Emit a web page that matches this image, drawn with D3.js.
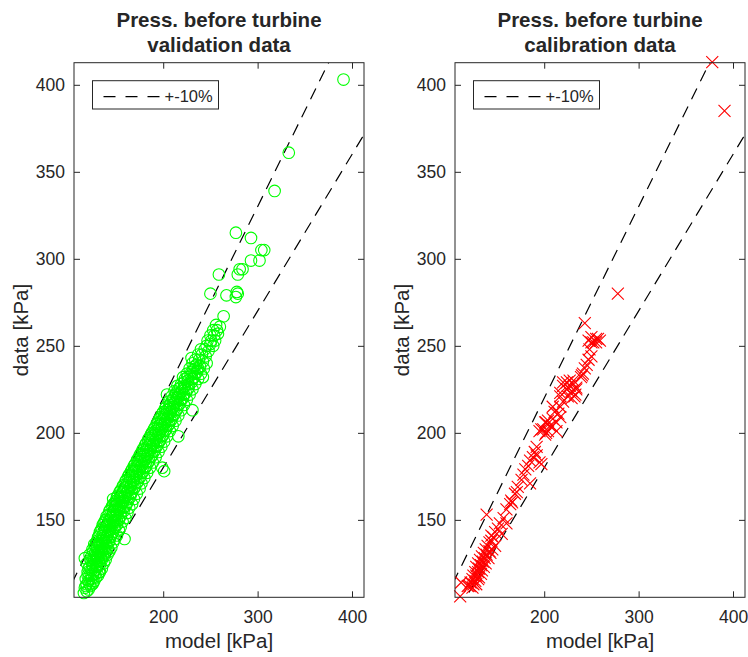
<!DOCTYPE html>
<html>
<head>
<meta charset="utf-8">
<script src="https://cdn.jsdelivr.net/npm/d3@7/dist/d3.min.js"></script>
<style>
  body { margin: 0; background: #fff; }
  text { font-family: "Liberation Sans", Arial, sans-serif; fill: #262626; }
</style>
</head>
<body>
<svg id="chart" width="748" height="657"></svg>
<script>
// tick values and limits
const xTicks = [200, 300, 400];
const yTicks = [150, 200, 250, 300, 350, 400];
const axisLimits = [105.5, 412.7];
const bandFactors = [1.1, 0.9];
const legendLabel = "+-10%";

// validation data: [model, data] in kPa
const validationPoints = [
  [116,108],[119,109],[117,111],[121,110],[123,112],[119,113],[125,113],[121,115],[127,115],[118,116],
  [124,116],[129,117],[122,118],[126,119],[131,118],[120,120],[124,121],[128,121],[133,120],[122,123],
  [126,123],[130,124],[135,122],[119,125],[124,126],[128,126],[132,126],[137,125],[117,128],[126,128],
  [130,129],[134,128],[139,127],[122,130],[128,131],[132,131],[136,130],[141,130],[125,133],[130,134],
  [134,133],[138,133],[143,132],[127,136],[132,136],[136,136],[140,135],[145,134],[129,137],[134,138],
  [138,138],[142,137],[147,137],[131,140],[136,141],[140,140],[144,140],[149,139],[159,139],[133,143],
  [138,143],[142,143],[146,142],[151,141],[135,145],[140,146],[144,145],[148,145],[153,144],[137,148],
  [143,148],[147,148],[151,147],[155,146],[139,150],[145,151],[149,150],[153,150],[157,149],[142,153],
  [147,153],[151,153],[155,152],[160,151],[144,156],[149,156],[153,156],[158,155],[162,154],[147,162],
  [147,159],[151,159],[155,158],[160,158],[164,157],[150,161],[154,162],[158,161],[162,160],[167,159],
  [152,164],[156,165],[160,164],[165,163],[169,162],[155,167],[159,168],[163,167],[167,166],[172,165],
  [158,170],[162,171],[166,170],[170,169],[175,168],[161,173],[165,174],[169,173],[173,172],[177,171],
  [164,176],[168,177],[172,176],[176,175],[180,174],[167,179],[171,180],[175,179],[179,178],[183,177],
  [199,180],[201,178],[170,182],[174,183],[178,182],[182,181],[186,180],[173,185],[177,186],[181,185],
  [185,184],[189,183],[176,188],[180,189],[184,188],[188,187],[192,186],[179,191],[183,192],[187,191],
  [191,190],[195,189],[182,194],[186,195],[190,194],[194,193],[198,192],[185,197],[189,198],[193,197],
  [197,196],[201,195],[216,198],[188,200],[192,201],[196,200],[200,199],[204,198],[191,203],[195,204],
  [199,203],[203,202],[207,201],[194,206],[198,207],[202,206],[206,205],[210,204],[197,209],[201,210],
  [205,209],[209,208],[213,207],[200,212],[204,213],[208,212],[212,211],[216,210],[231,213],[203,215],
  [207,216],[211,215],[215,214],[219,213],[204,222],[206,218],[210,219],[214,218],[218,217],[222,216],
  [209,221],[213,222],[217,221],[221,220],[225,219],[212,224],[216,225],[220,224],[224,223],[228,222],
  [215,227],[219,228],[223,227],[227,226],[231,225],[221,232],[223,231],[226,230],[230,229],[234,228],
  [225,234],[229,233],[233,232],[237,231],[242,232],[228,237],[232,236],[236,235],[240,234],[231,240],
  [235,239],[239,238],[243,237],[230,243],[234,242],[238,242],[242,241],[246,240],[237,245],[241,245],
  [245,244],[246,250],[240,248],[244,248],[248,247],[250,251],[253,250],[247,253],[251,253],[255,253],
  [250,256],[254,256],[258,257],[253,259],[257,259],[260,261],[256,262],[264,267],
  [118,112],[122,113],[126,114],[120,118],[124,118],[128,119],[132,120],[121,122],[125,124],[129,123],
  [133,124],[123,127],[127,127],[131,128],[135,127],[124,129],[129,130],[133,130],[137,129],[126,132],
  [131,132],[135,132],[139,131],[128,135],[133,135],[137,134],[141,134],[130,138],[135,138],[139,137],
  [143,138],[132,141],[137,140],[141,141],[145,141],[134,144],[139,144],[143,144],[147,143],[136,147],
  [141,147],[145,147],[149,146],[138,149],[143,150],[147,149],[151,149],[140,152],[145,152],[149,152],
  [153,151],[143,155],[147,155],[151,155],[155,154],[146,158],[150,158],[154,157],[158,157],[149,160],
  [153,160],[157,160],[161,159],[151,163],[155,163],[159,163],[163,162],[154,166],[158,166],[162,166],
  [166,165],[157,169],[161,169],[165,169],[169,168],[160,172],[164,172],[168,172],[172,171],[163,175],
  [167,175],[171,175],[175,174],[166,178],[170,178],[174,178],[178,177],[169,181],[173,181],[177,181],
  [181,180],[172,184],[176,184],[180,184],[184,183],[175,187],[179,187],[183,187],[187,186],[178,190],
  [182,190],[186,190],[190,189],[181,193],[185,193],[189,193],[193,192],[184,196],[188,196],[192,196],
  [196,195],[187,199],[191,199],[195,199],[199,198],[190,202],[194,202],[198,202],[202,201],[193,205],
  [197,205],[201,205],[205,204],[196,208],[200,208],[204,208],[208,207],[199,211],[203,211],[207,211],
  [211,210],[202,214],[206,214],[210,214],[214,213],[208,217],[212,217],[216,216],[211,220],[215,220],
  [219,219],[214,223],[218,223],[222,222],[218,226],[222,226],[226,225],[222,229],[227,228],[226,232],
  [231,231],[230,235],[234,234],[233,238],[237,237],
  [250,280],[267,279],[278,281],[279,280],[277,278],[259,291],[284,294],[281,294],[279,291],[293,299],
  [302,299],[304,305],[307,305],[277,315],[293,312],[318,339],[333,361],[391,403]
];

// calibration data: [model, data] in kPa
const calibrationPoints = [
  [378,413],[391,385],[278,280],[243,263],
  [250,255],[255,254],[247,253],[259,253],[252,252],[257,254],[250,252],[255,252],[248,248],[250,244],
  [247,242],[245,239],[243,237],[241,234],[240,233],[239,232],
  [231,230],[224,229],[227,227],[234,225],[229,224],[232,221],[220,227],[217,221],[225,221],[220,218],
  [227,230],[231,228],[234,226],[233,222],[229,220],[220,229],[224,225],[217,223],
  [209,215],[215,211],[217,215],[204,207],[201,206],[199,202],[208,204],[213,201],[202,200],[195,201],
  [211,212],[217,209],[209,208],[213,206],[202,206],[206,204],[197,202],[201,199],[204,201],
  [192,192],[190,189],[188,186],[185,184],[192,187],[195,183],[183,181],[180,179],[178,176],[176,173],
  [197,182],[185,171],
  [172,169],[169,165],[165,161],[164,159],[160,156],[166,160],[171,166],[139,153],
  [157,151],[153,148],[151,145],[148,143],[160,148],[155,142],[146,140],[144,138],[142,137],[148,135],
  [144,141],[140,135],[138,133],[142,132],[136,131],[139,130],[134,129],[137,128],[141,128],[132,127],
  [135,126],[138,125],[130,125],[133,124],[136,123],[128,123],[131,122],[134,121],[127,120],[130,120],
  [133,119],[125,118],[128,118],[131,117],[124,116],[127,115],[130,116],[122,114],[125,113],[128,113],
  [121,112],[124,111],[119,112],[112,114],[111,106],[143,131],[145,133]
];

const panels = [
  {title: ["Press. before turbine", "validation data"], left: 74, points: validationPoints, marker: "circle", colour: "#00ff00"},
  {title: ["Press. before turbine", "calibration data"], left: 455, points: calibrationPoints, marker: "cross", colour: "#ff0000"}
];

const plotTop = 62.7, plotBottom = 597.3, plotWidth = 290;
const svg = d3.select("#chart");

panels.forEach((p, i) => {
  const x = d3.scaleLinear().domain(axisLimits).range([p.left, p.left + plotWidth]);
  const y = d3.scaleLinear().domain(axisLimits).range([plotBottom, plotTop]);
  const g = svg.append("g");

  const clipId = `clip-${i}`;
  svg.append("defs").append("clipPath").attr("id", clipId)
    .append("rect")
      .attr("x", p.left).attr("y", plotTop)
      .attr("width", plotWidth).attr("height", plotBottom - plotTop);

  // +-10% lines
  const line = d3.line().x(d => x(d[0])).y(d => y(d[1]));
  bandFactors.forEach(f => {
    g.append("path")
      .attr("clip-path", `url(#${clipId})`)
      .attr("d", line([[0, 0], [460, 460 * f]]))
      .attr("fill", "none")
      .attr("stroke", "#000")
      .attr("stroke-width", 1.2)
      .attr("stroke-dasharray", "12,8");
  });

  // markers (not clipped, like the original)
  const marks = g.append("g");
  if (p.marker === "circle") {
    marks.selectAll("circle").data(p.points).enter().append("circle")
      .attr("cx", d => x(d[0])).attr("cy", d => y(d[1]))
      .attr("r", 5.8)
      .attr("fill", "none")
      .attr("stroke", p.colour)
      .attr("stroke-width", 1.1);
  } else {
    const s = 6;
    marks.selectAll("path").data(p.points).enter().append("path")
      .attr("d", d => {
        const cx = x(d[0]), cy = y(d[1]);
        return `M${cx - s},${cy - s}L${cx + s},${cy + s}M${cx - s},${cy + s}L${cx + s},${cy - s}`;
      })
      .attr("stroke", p.colour)
      .attr("stroke-width", 1.1);
  }

  // axes, ticks pointing inward on all four sides
  const tickLen = 6;
  const style = a => {
    a.select(".domain").remove();
    a.selectAll(".tick line").attr("stroke", "#262626");
    a.selectAll(".tick text").attr("fill", "#262626").style("font-size", "17.5px");
    a.attr("font-family", null).attr("font-size", null);
  };
  g.append("g").attr("transform", `translate(0,${plotBottom})`)
    .call(d3.axisBottom(x).tickValues(xTicks).tickSize(-tickLen).tickPadding(13.5)).call(style);
  g.append("g").attr("transform", `translate(0,${plotTop})`)
    .call(d3.axisTop(x).tickValues(xTicks).tickSize(-tickLen).tickFormat("")).call(style);
  g.append("g").attr("transform", `translate(${p.left},0)`)
    .call(d3.axisLeft(y).tickValues(yTicks).tickSize(-tickLen).tickPadding(9)).call(style);
  g.append("g").attr("transform", `translate(${p.left + plotWidth},0)`)
    .call(d3.axisRight(y).tickValues(yTicks).tickSize(-tickLen).tickFormat("")).call(style);

  g.append("rect")
    .attr("x", p.left).attr("y", plotTop)
    .attr("width", plotWidth).attr("height", plotBottom - plotTop)
    .attr("fill", "none").attr("stroke", "#262626").attr("stroke-width", 1);

  // labels
  g.append("text")
    .attr("x", p.left + plotWidth / 2).attr("y", 648)
    .attr("text-anchor", "middle").style("font-size", "20.5px")
    .text("model [kPa]");
  g.append("text")
    .attr("transform", `translate(${p.left - 46},${(plotTop + plotBottom) / 2}) rotate(-90)`)
    .attr("text-anchor", "middle").style("font-size", "20.5px")
    .text("data [kPa]");

  g.append("text")
    .attr("x", p.left + plotWidth / 2).attr("y", 26.5)
    .attr("text-anchor", "middle").style("font-size", "20.5px").style("font-weight", "bold")
    .text(p.title[0]);
  g.append("text")
    .attr("x", p.left + plotWidth / 2).attr("y", 51.5)
    .attr("text-anchor", "middle").style("font-size", "20.5px").style("font-weight", "bold")
    .text(p.title[1]);

  // legend
  const lg = g.append("g").attr("transform", `translate(${p.left + 18.5},${80.7})`);
  lg.append("rect").attr("width", 126).attr("height", 28.3)
    .attr("fill", "#fff").attr("stroke", "#262626").attr("stroke-width", 1);
  lg.append("line").attr("x1", 11).attr("x2", 67).attr("y1", 16).attr("y2", 16)
    .attr("stroke", "#000").attr("stroke-width", 1.2).attr("stroke-dasharray", "12,10");
  lg.append("text").attr("x", 72).attr("y", 21.5).style("font-size", "16.5px").text(legendLabel);
});
</script>
</body>
</html>
